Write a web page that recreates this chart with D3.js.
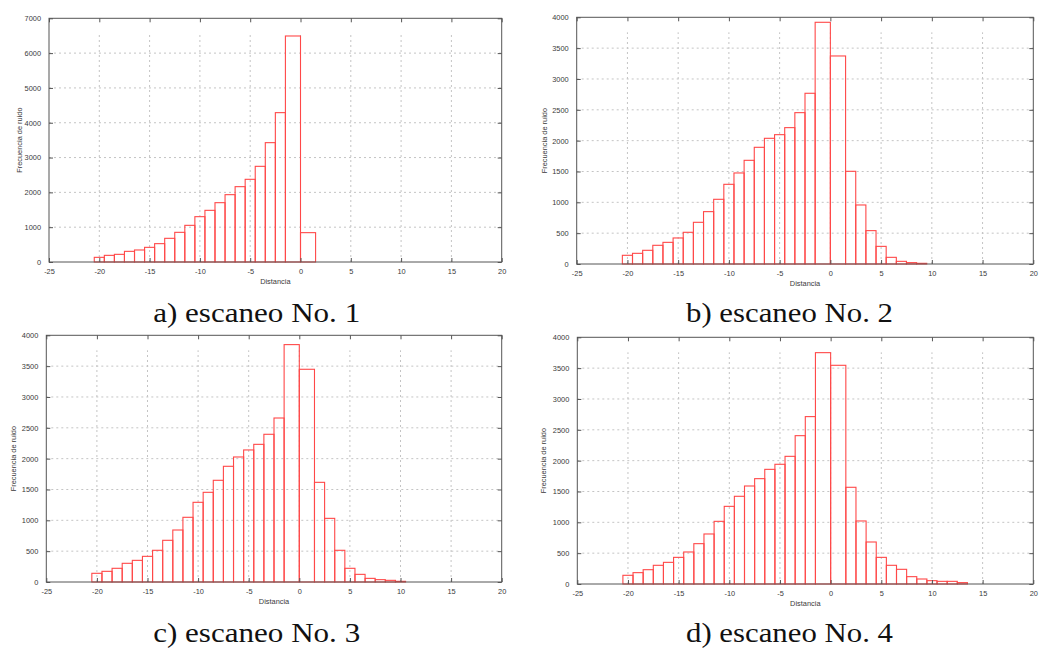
<!DOCTYPE html>
<html>
<head>
<meta charset="utf-8">
<script src="https://cdn.jsdelivr.net/npm/d3@7"></script>
<style>
  html, body { margin: 0; padding: 0; background: #fff; }
  svg { display: block; }
</style>
</head>
<body>
<svg id="chart" width="1040" height="648"></svg>
<script>
// ---------- DATA ----------
// Bin edges (Distancia) for each scan; the bins at -1 and +1 extend to 0.
const edgesA = [-20.5,-19.5,-18.5,-17.5,-16.5,-15.5,-14.5,-13.5,-12.5,-11.5,-10.5,-9.5,-8.5,-7.5,-6.5,-5.5,-4.5,-3.5,-2.5,-1.5,0,1.5];
const freqA  = [134,191,220,306,345,421,527,680,852,1053,1302,1484,1704,1934,2164,2375,2748,3428,4290,6492,843];

const edgesB = [-20.5,-19.5,-18.5,-17.5,-16.5,-15.5,-14.5,-13.5,-12.5,-11.5,-10.5,-9.5,-8.5,-7.5,-6.5,-5.5,-4.5,-3.5,-2.5,-1.5,0,1.5,2.5,3.5,4.5,5.5,6.5,7.5,8.5,9.5];
const freqB  = [141,173,222,303,351,422,514,676,849,1049,1292,1476,1681,1892,2038,2097,2211,2454,2768,3919,3373,1503,957,541,286,108,43,22,11];

const edgesC = [-20.5,-19.5,-18.5,-17.5,-16.5,-15.5,-14.5,-13.5,-12.5,-11.5,-10.5,-9.5,-8.5,-7.5,-6.5,-5.5,-4.5,-3.5,-2.5,-1.5,0,1.5,2.5,3.5,4.5,5.5,6.5,7.5,8.5,9.5,10.5];
const freqC  = [141,173,222,303,351,416,514,676,843,1049,1292,1454,1649,1876,2027,2141,2232,2395,2659,3849,3449,1616,1032,514,222,124,59,38,27,11];

const edgesD = [-20.5,-19.5,-18.5,-17.5,-16.5,-15.5,-14.5,-13.5,-12.5,-11.5,-10.5,-9.5,-8.5,-7.5,-6.5,-5.5,-4.5,-3.5,-2.5,-1.5,0,1.5,2.5,3.5,4.5,5.5,6.5,7.5,8.5,9.5,10.5,11.5,12.5,13.5];
const freqD  = [141,184,232,303,351,432,519,654,811,1016,1259,1422,1589,1708,1859,1941,2070,2405,2714,3751,3546,1568,1022,681,432,303,238,119,81,54,43,43,22];

const xTicks   = [-25,-20,-15,-10,-5,0,5,10,15,20];
const yTicksA  = [0,1000,2000,3000,4000,5000,6000,7000];
const yTicksB  = [0,500,1000,1500,2000,2500,3000,3500,4000];
const captions = ["a) escaneo No. 1","b) escaneo No. 2","c) escaneo No. 3","d) escaneo No. 4"];
const xLabel = "Distancia";
const yLabel = "Frecuencia de ruido";

// ---------- LAYOUT ----------
const panels = [
  {edges: edgesA, freq: freqA, yTicks: yTicksA, caption: captions[0],
   left: 49, right: 501.7, top: 18.3, bottom: 262, yLabX: 19, capX: 256.7, capY: 322},
  {edges: edgesB, freq: freqB, yTicks: yTicksB, caption: captions[1],
   left: 576.7, right: 1033.3, top: 17.3, bottom: 264, yLabX: 544, capX: 789.5, capY: 322},
  {edges: edgesC, freq: freqC, yTicks: yTicksB, caption: captions[2],
   left: 46.3, right: 501.7, top: 335.3, bottom: 582, yLabX: 13.3, capX: 256.7, capY: 642},
  {edges: edgesD, freq: freqD, yTicks: yTicksB, caption: captions[3],
   left: 577.3, right: 1033.3, top: 337.3, bottom: 584, yLabX: 543.3, capX: 789.5, capY: 642}
];

const svg = d3.select("#chart");
const frameColor = "#555";
const barColor = "#ff4848";
const gridColor = "#c4c4c4";
const tickFont = "'Liberation Sans', Arial, sans-serif";

panels.forEach(p => {
  const g = svg.append("g");
  const yMax = p.yTicks[p.yTicks.length - 1];
  const x = d3.scaleLinear().domain([xTicks[0], xTicks[xTicks.length - 1]]).range([p.left, p.right]);
  const y = d3.scaleLinear().domain([0, yMax]).range([p.bottom, p.top]);

  // grid
  g.append("g").selectAll("line").data(p.yTicks.slice(1, -1)).join("line")
    .attr("x1", p.left).attr("x2", p.right)
    .attr("y1", d => y(d)).attr("y2", d => y(d))
    .attr("stroke", gridColor).attr("stroke-width", 1).attr("stroke-dasharray", "2,3");
  g.append("g").selectAll("line").data(xTicks.slice(1, -1)).join("line")
    .attr("x1", d => x(d)).attr("x2", d => x(d))
    .attr("y1", p.bottom).attr("y2", p.top + 15)
    .attr("stroke", gridColor).attr("stroke-width", 1).attr("stroke-dasharray", "2,3");

  // bars
  const bins = p.freq.map((v, i) => ({x0: p.edges[i], x1: p.edges[i + 1], v}));
  g.append("g").selectAll("rect").data(bins).join("rect")
    .attr("x", d => x(d.x0))
    .attr("width", d => x(d.x1) - x(d.x0))
    .attr("y", d => y(d.v))
    .attr("height", d => y(0) - y(d.v))
    .attr("fill", "none")
    .attr("stroke", barColor)
    .attr("stroke-width", 1.1);

  // frame
  g.append("rect")
    .attr("x", p.left).attr("y", p.top)
    .attr("width", p.right - p.left).attr("height", p.bottom - p.top)
    .attr("fill", "none").attr("stroke", frameColor).attr("stroke-width", 1);

  // axes (inward ticks on all sides)
  const tl = 4;
  g.append("g").attr("transform", `translate(0,${p.bottom})`)
    .call(d3.axisBottom(x).tickValues(xTicks).tickSize(-tl).tickPadding(7).tickFormat(d => String(d)))
    .call(a => a.select(".domain").remove());
  g.append("g").attr("transform", `translate(0,${p.top})`)
    .call(d3.axisTop(x).tickValues(xTicks).tickSize(-tl).tickFormat(""))
    .call(a => a.select(".domain").remove());
  g.append("g").attr("transform", `translate(${p.left},0)`)
    .call(d3.axisLeft(y).tickValues(p.yTicks).tickSize(-tl).tickPadding(8).tickFormat(d => String(d)))
    .call(a => a.select(".domain").remove());
  g.append("g").attr("transform", `translate(${p.right},0)`)
    .call(d3.axisRight(y).tickValues(p.yTicks).tickSize(-tl).tickFormat(""))
    .call(a => a.select(".domain").remove());

  g.selectAll(".tick line").attr("stroke", frameColor);
  g.selectAll(".tick text")
    .attr("font-family", tickFont).attr("font-size", "7.4px").attr("fill", "#3a3a3a");

  // axis titles
  g.append("text")
    .attr("x", (p.left + p.right) / 2).attr("y", p.bottom + 22)
    .attr("text-anchor", "middle")
    .attr("font-family", tickFont).attr("font-size", "7.4px").attr("fill", "#3a3a3a")
    .text(xLabel);
  g.append("text")
    .attr("transform", `translate(${p.yLabX + 2.5},${(p.top + p.bottom) / 2}) rotate(-90)`)
    .attr("text-anchor", "middle")
    .attr("font-family", tickFont).attr("font-size", "7.4px").attr("fill", "#3a3a3a")
    .text(yLabel);

  // caption
  svg.append("text")
    .attr("x", p.capX).attr("y", p.capY)
    .attr("text-anchor", "middle")
    .attr("font-family", "'Liberation Serif', 'Times New Roman', serif")
    .attr("font-size", "27px").attr("fill", "#111")
    .attr("textLength", 207).attr("lengthAdjust", "spacingAndGlyphs")
    .text(p.caption);
});
</script>
</body>
</html>
